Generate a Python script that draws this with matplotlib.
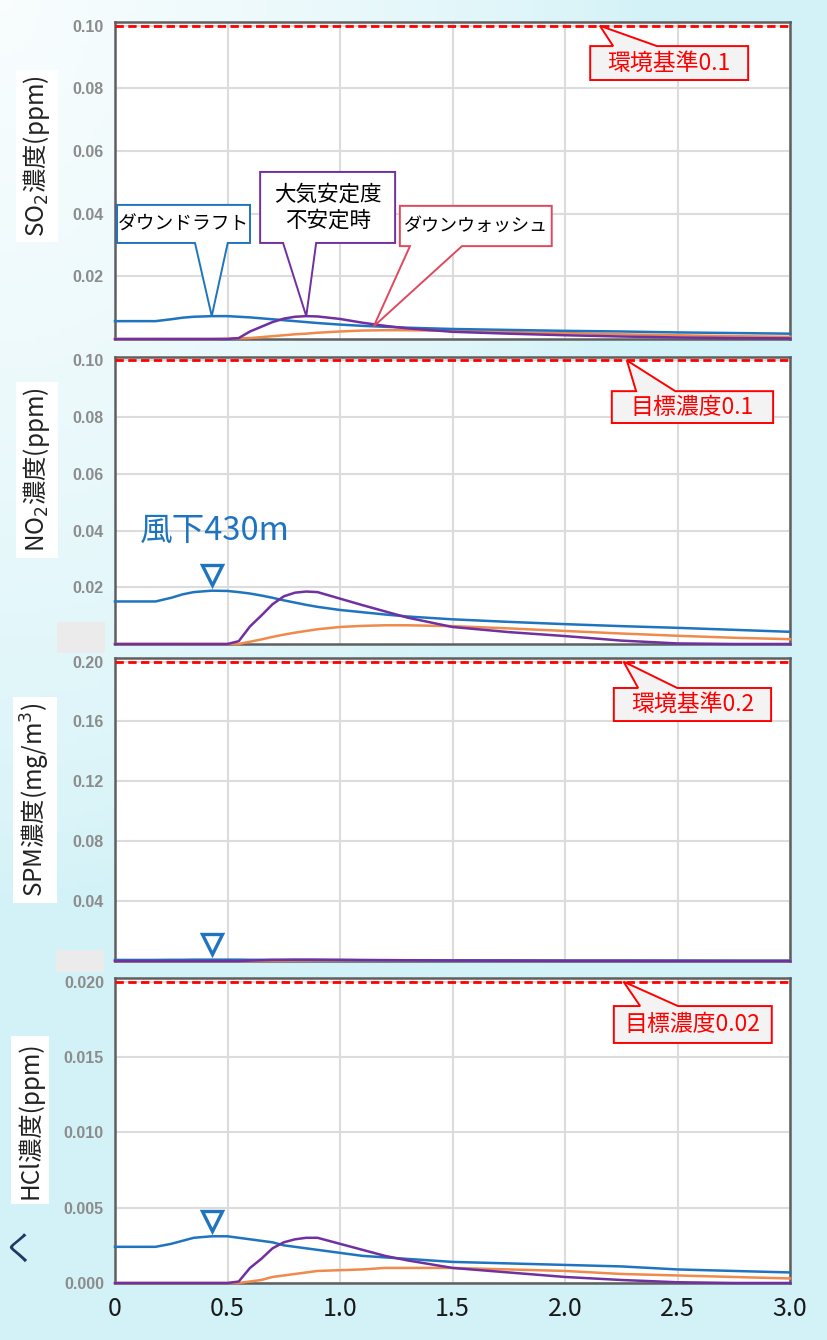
import numpy as np
import matplotlib.pyplot as plt
from matplotlib.patches import Polygon, Rectangle
from matplotlib.transforms import offset_copy

plt.rcParams["font.family"] = ["Noto Sans CJK JP", "DejaVu Sans"]

W, H = 827, 1340

# distance downwind (km)
DIST = [0, 0.1, 0.18, 0.25, 0.3, 0.35, 0.43, 0.5, 0.55, 0.6, 0.65, 0.7, 0.75,
        0.8, 0.85, 0.9, 1.0, 1.1, 1.2, 1.3, 1.5, 1.75, 2.0, 2.25, 2.5, 2.75, 3.0]

SO2_DOWNDRAFT = [0.0057, 0.0057, 0.0057, 0.0063, 0.0068, 0.0071, 0.0073, 0.0073, 0.0071,
                 0.0069, 0.0066, 0.0063, 0.0060, 0.0057, 0.0054, 0.0051, 0.0046, 0.0042,
                 0.0039, 0.0036, 0.0032, 0.0029, 0.0026, 0.0024, 0.0021, 0.0019, 0.0017]
SO2_UNSTABLE = [0, 0, 0, 0, 0, 0, 0, 0, 0.0003, 0.0024, 0.0039, 0.0054, 0.0065, 0.0071,
                0.0073, 0.0072, 0.0064, 0.0052, 0.0042, 0.0034, 0.0023, 0.0017, 0.0012,
                0.0008, 0.0005, 0.0003, 0.0002]
SO2_DOWNWASH = [0, 0, 0, 0, 0, 0, 0, 0.0001, 0.0002, 0.0003, 0.0006, 0.0009, 0.0012,
                0.0015, 0.0017, 0.0020, 0.0024, 0.0027, 0.0028, 0.0028, 0.0026, 0.0022,
                0.0019, 0.0015, 0.0012, 0.0009, 0.0007]

NO2_DOWNDRAFT = [0.0150, 0.0150, 0.0150, 0.0163, 0.0175, 0.0183, 0.0188, 0.0187, 0.0183,
                 0.0178, 0.0171, 0.0163, 0.0154, 0.0146, 0.0138, 0.0131, 0.0120, 0.0112,
                 0.0104, 0.0097, 0.0087, 0.0078, 0.0070, 0.0063, 0.0057, 0.0050, 0.0043]
NO2_UNSTABLE = [0, 0, 0, 0, 0, 0, 0, 0, 0.0010, 0.0062, 0.0100, 0.0140, 0.0168, 0.0181,
                0.0185, 0.0183, 0.0160, 0.0137, 0.0115, 0.0093, 0.0060, 0.0042, 0.0028,
                0.0012, 0.0002, 0, 0]
NO2_DOWNWASH = [0, 0, 0, 0, 0, 0, 0, 0, 0, 0.0008, 0.0016, 0.0025, 0.0033, 0.0040,
                0.0046, 0.0052, 0.0060, 0.0064, 0.0066, 0.0066, 0.0063, 0.0055, 0.0046,
                0.0037, 0.0029, 0.0022, 0.0017]

SPM_DOWNDRAFT = [0.0007, 0.0007, 0.0007, 0.0008, 0.0008, 0.0009, 0.0009, 0.0009, 0.0009,
                 0.0008, 0.0008, 0.0008, 0.0007, 0.0007, 0.0007, 0.0006, 0.0006, 0.0005,
                 0.0005, 0.0005, 0.0004, 0.0004, 0.0003, 0.0003, 0.0003, 0.0002, 0.0002]
SPM_UNSTABLE = [0, 0, 0, 0, 0, 0, 0, 0, 0, 0.0003, 0.0005, 0.0007, 0.0008, 0.0009,
                0.0009, 0.0009, 0.0008, 0.0007, 0.0006, 0.0005, 0.0003, 0.0002, 0.0001,
                0.0001, 0, 0, 0]
SPM_DOWNWASH = [0, 0, 0, 0, 0, 0, 0, 0, 0, 0, 0, 0.0001, 0.0001, 0.0002, 0.0002, 0.0002,
                0.0003, 0.0003, 0.0003, 0.0003, 0.0003, 0.0003, 0.0002, 0.0002, 0.0001,
                0.0001, 0.0001]

HCL_DOWNDRAFT = [0.0024, 0.0024, 0.0024, 0.0026, 0.0028, 0.0030, 0.0031, 0.0031, 0.0030,
                 0.0029, 0.0028, 0.0027, 0.0025, 0.0024, 0.0023, 0.0022, 0.0020, 0.0018,
                 0.0017, 0.0016, 0.0014, 0.0013, 0.0012, 0.0011, 0.0009, 0.0008, 0.0007]
HCL_UNSTABLE = [0, 0, 0, 0, 0, 0, 0, 0, 0.0001, 0.0010, 0.0016, 0.0023, 0.0027, 0.0029,
                0.0030, 0.0030, 0.0026, 0.0022, 0.0018, 0.0015, 0.0010, 0.0007, 0.0004,
                0.0002, 0.00005, 0, 0]
HCL_DOWNWASH = [0, 0, 0, 0, 0, 0, 0, 0, 0, 0.0001, 0.0002, 0.0004, 0.0005, 0.0006,
                0.0007, 0.0008, 0.00085, 0.0009, 0.0010, 0.0010, 0.0010, 0.0009, 0.0008,
                0.0006, 0.0005, 0.0004, 0.0003]

YLABELS = ["SO$_2$濃度(ppm)", "NO$_2$濃度(ppm)", "SPM濃度(mg/m$^3$)", "HCl濃度(ppm)"]
LIMITS = [0.1, 0.1, 0.2, 0.02]
LIMIT_LABELS = ["環境基準0.1", "目標濃度0.1", "環境基準0.2", "目標濃度0.02"]
YTICKS = [[0.02, 0.04, 0.06, 0.08, 0.10],
          [0.02, 0.04, 0.06, 0.08, 0.10],
          [0.04, 0.08, 0.12, 0.16, 0.20],
          [0.000, 0.005, 0.010, 0.015, 0.020]]
YFMT = ["{:.2f}", "{:.2f}", "{:.2f}", "{:.3f}"]
XTICKS = [0, 0.5, 1.0, 1.5, 2.0, 2.5, 3.0]
XTICK_LABELS = ["0", "0.5", "1.0", "1.5", "2.0", "2.5", "3.0"]
PEAK_X = 0.43

BLUE = "#1f74c0"
PURPLE = "#7030a0"
ORANGE = "#f08a4b"

# axes frames in pixels: top, bottom
FRAMES = [(22, 339), (357, 644), (658, 961), (978, 1283)]
LEFT, RIGHT = 115, 790


def px_axes(top, bottom):
    return [LEFT / W, 1 - bottom / H, (RIGHT - LEFT) / W, (bottom - top) / H]


def draw_background(fig):
    bg = fig.add_axes([0, 0, 1, 1], zorder=-10)
    yy, xx = np.mgrid[0:1:240j, 0:1:140j]
    w = np.clip(1.0 - np.hypot(xx * 1.3, yy * 1.5), 0, 1) ** 0.7
    base = np.array([0.83, 0.95, 0.97])
    img = base + (1 - base) * w[..., None] * 0.85
    bg.imshow(img, aspect="auto", extent=[0, 1, 0, 1], origin="upper")
    bg.set_axis_off()
    for (x, y, w_, h_) in [(57, 622, 48, 31), (56, 950, 48, 22)]:
        fig.patches.append(Rectangle((x / W, 1 - (y + h_) / H), w_ / W, h_ / H,
                                     transform=fig.transFigure, fc="#ebebeb",
                                     ec="none", zorder=-5))


def to_axes(ax, x, y):
    return ax.transAxes.inverted().transform(ax.transData.transform((x, y)))


def callout(ax, box, base, tip, text, edge, face="white", color="black", size=13,
            up=False):
    x0, x1, y0, y1 = box
    b0, b1 = base
    if up:
        pts = [(x0, y0), (x1, y0), (x1, y1), (b1, y1), tip, (b0, y1), (x0, y1)]
    else:
        pts = [(x0, y0), (b0, y0), tip, (b1, y0), (x1, y0), (x1, y1), (x0, y1)]
    ax.add_patch(Polygon(pts, closed=True, transform=ax.transAxes, fc=face,
                         ec=edge, lw=1.4, zorder=6, clip_on=False))
    ax.text((x0 + x1) / 2, (y0 + y1) / 2, text, transform=ax.transAxes,
            ha="center", va="center", color=color, fontsize=size, zorder=7,
            linespacing=1.25)


def limit_callout(ax, limit, label, box, base, tip_x):
    tip = to_axes(ax, tip_x, limit)
    callout(ax, box, base, tip, label, "#ff0000", face="#f3f3f3",
            color="#ff0000", size=16.5, up=True)


def draw_panel(ax, i, series):
    top = LIMITS[i] * 1.012
    ax.set_xlim(0, 3.0)
    ax.set_ylim(0, top)
    ax.set_facecolor("white")
    ax.set_xticks(XTICKS)
    ax.set_yticks(YTICKS[i])
    ax.set_yticklabels([YFMT[i].format(v) for v in YTICKS[i]],
                       family="Liberation Sans", fontsize=11.5, color="#8c8c8c",
                       fontweight="bold")
    ax.grid(True, color="#dcdcdc", lw=1.5)
    ax.set_axisbelow(True)
    ax.tick_params(length=0, pad=8)
    for s in ax.spines.values():
        s.set_color("#5f5f5f")
        s.set_linewidth(1.8)
    ax.axhline(LIMITS[i], color="#ff0000", lw=2, ls=(0, (3, 1.6)), zorder=3)
    for ys, c in zip(series, [ORANGE, BLUE, PURPLE]):
        ax.plot(DIST, ys, color=c, lw=1.8, zorder=4, clip_on=False)


def main():
    fig = plt.figure(figsize=(W / 100, H / 100), dpi=100)
    draw_background(fig)

    all_series = [
        (SO2_DOWNWASH, SO2_DOWNDRAFT, SO2_UNSTABLE),
        (NO2_DOWNWASH, NO2_DOWNDRAFT, NO2_UNSTABLE),
        (SPM_DOWNWASH, SPM_DOWNDRAFT, SPM_UNSTABLE),
        (HCL_DOWNWASH, HCL_DOWNDRAFT, HCL_UNSTABLE),
    ]
    axes = []
    for i, (top, bottom) in enumerate(FRAMES):
        ax = fig.add_axes(px_axes(top, bottom))
        draw_panel(ax, i, all_series[i])
        if i < 3:
            ax.set_xticklabels([])
        else:
            ax.set_xticklabels(XTICK_LABELS, fontsize=18, color="#1a1a1a")
            ax.tick_params(axis="x", pad=9)
        axes.append(ax)

    # threshold callouts
    limit_callout(axes[0], LIMITS[0], LIMIT_LABELS[0], (0.704, 0.938, 0.817, 0.924),
                  (0.738, 0.803), 2.155)
    limit_callout(axes[1], LIMITS[1], LIMIT_LABELS[1], (0.736, 0.975, 0.770, 0.881),
                  (0.772, 0.830), 2.275)
    limit_callout(axes[2], LIMITS[2], LIMIT_LABELS[2], (0.739, 0.972, 0.792, 0.901),
                  (0.775, 0.833), 2.26)
    limit_callout(axes[3], LIMITS[3], LIMIT_LABELS[3], (0.739, 0.973, 0.787, 0.908),
                  (0.778, 0.834), 2.26)

    # case callouts on the SO2 panel
    ax = axes[0]
    i_peak = DIST.index(PEAK_X)
    i_unst = DIST.index(0.85)
    callout(ax, (0.003, 0.2, 0.303, 0.423), (0.1185, 0.167),
            to_axes(ax, PEAK_X, SO2_DOWNDRAFT[i_peak]), "ダウンドラフト", BLUE,
            size=13.5)
    callout(ax, (0.215, 0.415, 0.303, 0.527), (0.249, 0.298),
            to_axes(ax, 0.85, SO2_UNSTABLE[i_unst]), "大気安定度\n不安定時", PURPLE,
            size=15.5)
    callout(ax, (0.422, 0.647, 0.293, 0.42), (0.437, 0.514),
            to_axes(ax, 1.15, np.interp(1.15, DIST, SO2_DOWNDRAFT)),
            "ダウンウォッシュ", "#e0485d", size=13)

    # maximum-concentration markers (430 m downwind)
    for ax, down in zip(axes[1:], [NO2_DOWNDRAFT, SPM_DOWNDRAFT, HCL_DOWNDRAFT]):
        tr = offset_copy(ax.transData, fig=fig, y=11, units="points")
        ax.plot(PEAK_X, down[i_peak], marker="v", ms=15, mfc="none", mec=BLUE,
                mew=2.4, transform=tr, zorder=6, clip_on=False)
    axes[1].annotate("風下430m", (PEAK_X, NO2_DOWNDRAFT[i_peak]), xytext=(2, 43),
                     textcoords="offset points", ha="center", va="center",
                     fontsize=23.5, color=BLUE)

    # y-axis titles on white boxes
    for label, (x, y) in zip(YLABELS, [(37, 156), (37, 470), (35, 800), (30, 1120)]):
        fig.text(x / W, 1 - y / H, label, rotation=90, ha="center", va="center",
                 fontsize=17.5, color="#222222",
                 bbox=dict(fc="white", ec="none", pad=4))

    fig.text(2 / W, 1 - 1250 / H, "く", fontsize=24, color="#1f3864",
             ha="left", va="center")

    fig.savefig("out.png", dpi=100)


if __name__ == "__main__":
    main()
